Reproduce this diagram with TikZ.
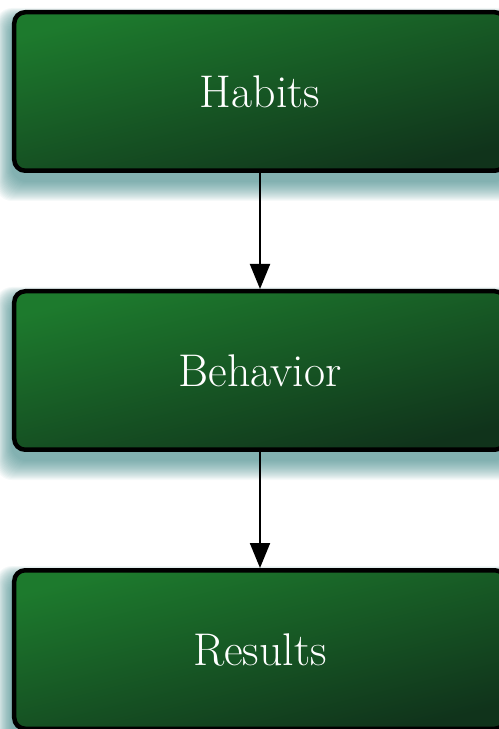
\documentclass[tikz,border=0pt]{standalone}
\usepackage{tikz}
\usetikzlibrary{positioning}
\usetikzlibrary{backgrounds}
\usetikzlibrary{arrows.meta}
\definecolor{boxlight}{HTML}{1D7A2D}
\definecolor{boxdark}{HTML}{10331B}
\definecolor{shadowteal}{HTML}{2A7A7A}

\begin{document}
\begin{tikzpicture}[x=1bp,y=1bp,
	stage/.style={draw=black, line width=4.5bp, rounded corners=11bp,
		minimum width=491.5bp, minimum height=158.5bp, inner sep=0pt,
		text=white, font=\fontsize{46}{50}\selectfont,
		shading=axis, top color=boxlight, bottom color=boxdark, shading angle=14},
	glow/.style={fill=shadowteal, opacity=0.045, rounded corners=16bp},
	link/.style={line width=2bp, -{Triangle[length=25bp,width=20bp]}},
	node distance=116bp]
				\useasboundingbox (0,0) rectangle (499,729);
				\node[stage] (habits) at (260,637.5) {Habits};
				\node[stage, below=of habits] (behavior) {Behavior};
				\node[stage, below=of behavior] (results) {Results};
				\draw[link] (habits) -- (behavior);
				\draw[link] (behavior) -- (results);
				% soft shadows
				\begin{scope}[on background layer]
					\foreach \n in {habits,behavior,results}
						\foreach \i in {1,...,20}
							\fill[glow] ([shift={(-0.8*\i,-\i-8)}]\n.south west) rectangle ([shift={(0.8*\i,0.6*\i-10)}]\n.north east);
				\end{scope}
			\end{tikzpicture}
\end{document}
